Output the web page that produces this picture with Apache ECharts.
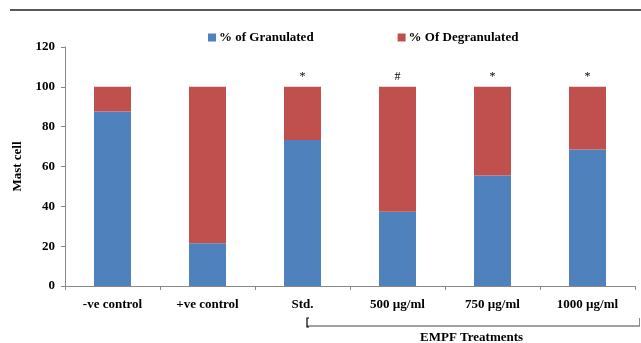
<!DOCTYPE html>
<html>
<head>
<meta charset="utf-8">
<script src="https://cdn.jsdelivr.net/npm/echarts@6/dist/echarts.min.js"></script>
<style>
html,body{margin:0;padding:0;background:#fff;}
#chart{width:641px;height:343px;}
</style>
</head>
<body>
<div id="chart"></div>
<script>
const categories = ['-ve control', '+ve control', 'Std.', '500 µg/ml', '750 µg/ml', '1000 µg/ml'];
const granulated = [87.6, 21.5, 73.3, 37.3, 55.5, 68.5];
const degranulated = [12.4, 78.5, 26.7, 62.7, 44.5, 31.5];
const significance = ['', '', '*', '#', '*', '*'];
const yTicks = [0, 20, 40, 60, 80, 100, 120];

const font = '"Liberation Serif", "Times New Roman", serif';
const chart = echarts.init(document.getElementById('chart'));
chart.setOption({
  animation: false,
  backgroundColor: '#fff',
  textStyle: { fontFamily: font },
  legend: {
    top: 26,
    left: 203,
    itemWidth: 8,
    itemHeight: 8,
    itemGap: 84,
    icon: 'rect',
    textStyle: { fontFamily: font, fontWeight: 'bold', fontSize: 13, color: '#000', padding: [0, 0, 0, -2] },
    data: ['% of Granulated', '% Of Degranulated']
  },
  grid: { left: 65, right: 6, top: 47, bottom: 57, containLabel: false },
  xAxis: {
    type: 'category',
    data: categories,
    axisLine: { lineStyle: { color: '#888', width: 1 } },
    axisTick: { show: true, length: 4, lineStyle: { color: '#888' } },
    axisLabel: { color: '#000', fontFamily: font, fontWeight: 'bold', fontSize: 13, margin: 12, interval: 0 }
  },
  yAxis: {
    type: 'value',
    min: yTicks[0],
    max: yTicks[yTicks.length - 1],
    interval: 20,
    name: 'Mast cell',
    nameLocation: 'middle',
    nameGap: 34,
    nameRotate: 90,
    nameTextStyle: { color: '#000', fontFamily: font, fontWeight: 'bold', fontSize: 13 },
    axisLine: { show: true, lineStyle: { color: '#888', width: 1 } },
    axisTick: { show: true, length: 4, lineStyle: { color: '#888' } },
    splitLine: { show: false },
    axisLabel: { color: '#000', fontFamily: font, fontWeight: 'bold', fontSize: 13, margin: 10 }
  },
  series: [
    {
      name: '% of Granulated',
      type: 'bar',
      stack: 'total',
      barWidth: 37,
      itemStyle: { color: '#4F81BD' },
      data: granulated
    },
    {
      name: '% Of Degranulated',
      type: 'bar',
      stack: 'total',
      barWidth: 37,
      itemStyle: { color: '#C0504D' },
      label: {
        show: true,
        position: 'top',
        distance: 4,
        color: '#000',
        fontFamily: font,
        fontSize: 12,
        formatter: function (p) { return significance[p.dataIndex]; }
      },
      data: degranulated
    }
  ],
  graphic: [
    { type: 'line', shape: { x1: 10, y1: 10, x2: 641, y2: 10 }, style: { stroke: '#222', lineWidth: 1.5 } },
    { type: 'line', shape: { x1: 307, y1: 326, x2: 640, y2: 326 }, style: { stroke: '#444', lineWidth: 1 } },
    { type: 'polyline', shape: { points: [[309, 318], [307, 318], [307, 327], [309, 327]] }, style: { stroke: '#000', fill: null, lineWidth: 1.2 } },
    { type: 'line', shape: { x1: 639.5, y1: 318, x2: 639.5, y2: 326 }, style: { stroke: '#888', lineWidth: 1 } },
    { type: 'text', left: 420, top: 331, style: { text: 'EMPF Treatments', fontFamily: font, fontWeight: 'bold', fontSize: 13, fill: '#000' } }
  ]
});
</script>
</body>
</html>
